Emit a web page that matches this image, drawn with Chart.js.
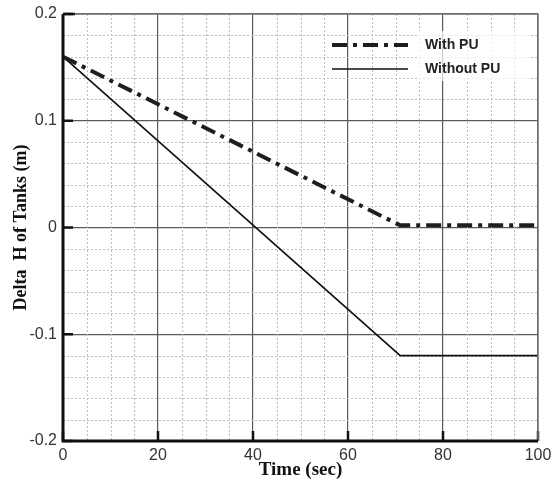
<!DOCTYPE html>
<html>
<head>
<meta charset="utf-8">
<script src="https://cdn.jsdelivr.net/npm/chart.js@4/dist/chart.umd.min.js"></script>
<style>
  html, body { margin: 0; padding: 0; background: #fff; }
  #wrap { width: 558px; height: 487px; }
</style>
</head>
<body>
<div id="wrap"><canvas id="mainChart" width="558" height="487"></canvas></div>
<script>
// datos
const timeSec = [0, 71, 100];
const withPU = [0.16, 0.002, 0.002];
const withoutPU = [0.16, -0.12, -0.12];
const seriesNames = ['With PU', 'Without PU'];
const xTicks = [0, 20, 40, 60, 80, 100];
const yTicks = [-0.2, -0.1, 0, 0.1, 0.2];

const toPoints = (ys) => timeSec.map((t, i) => ({ x: t, y: ys[i] }));

// rejilla menor punteada + marcas interiores
const minorGrid = {
  id: 'minorGrid',
  beforeDatasetsDraw(chart) {
    const { ctx, chartArea: a, scales: { x, y } } = chart;
    ctx.save();
    ctx.strokeStyle = '#bdbdbd';
    ctx.lineWidth = 1;
    ctx.setLineDash([2, 2]);
    for (let v = 5; v < 100; v += 5) {
      if (v % 20 === 0) continue;
      const px = Math.round(x.getPixelForValue(v)) + 0.5;
      ctx.beginPath(); ctx.moveTo(px, a.top); ctx.lineTo(px, a.bottom); ctx.stroke();
    }
    for (let k = -9; k <= 9; k++) {
      if (k % 5 === 0) continue;
      const py = Math.round(y.getPixelForValue(k * 0.02)) + 0.5;
      ctx.beginPath(); ctx.moveTo(a.left, py); ctx.lineTo(a.right, py); ctx.stroke();
    }
    ctx.setLineDash([]);
    ctx.strokeStyle = '#111';
    ctx.lineWidth = 2.5;
    xTicks.forEach(v => {
      const px = x.getPixelForValue(v);
      ctx.beginPath(); ctx.moveTo(px, a.bottom); ctx.lineTo(px, a.bottom - 10); ctx.stroke();
    });
    yTicks.forEach(v => {
      const py = y.getPixelForValue(v);
      ctx.beginPath(); ctx.moveTo(a.left, py); ctx.lineTo(a.left + 10, py); ctx.stroke();
    });
    ctx.restore();
  },
  afterDraw(chart) {
    const { ctx, chartArea: a } = chart;
    ctx.save();
    // marco
    ctx.strokeStyle = '#777';
    ctx.lineWidth = 1.5;
    ctx.beginPath(); ctx.moveTo(a.left, a.top); ctx.lineTo(a.right, a.top); ctx.lineTo(a.right, a.bottom); ctx.stroke();
    ctx.strokeStyle = '#111';
    ctx.lineWidth = 3;
    ctx.beginPath(); ctx.moveTo(a.left, a.top); ctx.lineTo(a.left, a.bottom); ctx.lineTo(a.right, a.bottom); ctx.stroke();
    ctx.lineWidth = 2.5;
    ctx.beginPath(); ctx.moveTo(a.left, a.top); ctx.lineTo(a.left + 12, a.top); ctx.stroke();

    // leyenda
    ctx.fillStyle = 'rgba(255,255,255,0.7)';
    ctx.fillRect(418, 31, 112, 50);
    ctx.font = 'bold 14px "Liberation Sans", Arial, sans-serif';
    ctx.textBaseline = 'middle';
    chart.data.datasets.forEach((ds, i) => {
      const ly = 45 + i * 24;
      ctx.strokeStyle = ds.borderColor;
      ctx.lineWidth = ds.borderWidth;
      ctx.setLineDash(ds.borderDash || []);
      ctx.beginPath(); ctx.moveTo(332, ly); ctx.lineTo(408, ly); ctx.stroke();
      ctx.setLineDash([]);
      ctx.fillStyle = '#222';
      ctx.fillText(ds.label, 425, ly);
    });
    ctx.restore();
  }
};

const ctx = document.getElementById('mainChart').getContext('2d');

new Chart(ctx, {
  type: 'line',
  data: {
    datasets: [{
      label: seriesNames[0],
      data: toPoints(withPU),
      borderColor: '#1e1e1e',
      borderWidth: 4,
      borderDash: [15, 6, 4, 6],
      pointRadius: 0,
      fill: false
    }, {
      label: seriesNames[1],
      data: toPoints(withoutPU),
      borderColor: '#111',
      borderWidth: 1.6,
      pointRadius: 0,
      fill: false
    }]
  },
  options: {
    responsive: false,
    animation: false,
    layout: { padding: { top: 14, right: 20, left: 0, bottom: 0 } },
    plugins: { legend: { display: false }, tooltip: { enabled: false } },
    scales: {
      x: {
        type: 'linear',
        min: 0, max: 100,
        afterBuildTicks: (s) => { s.ticks = xTicks.map(v => ({ value: v })); },
        afterFit: (s) => { s.height = 46; },
        grid: { color: '#5a5a5a', lineWidth: 1.2, drawTicks: false },
        border: { display: false },
        ticks: {
          color: '#333', padding: 5,
          font: { family: '"Liberation Sans", Arial, sans-serif', size: 16 },
          maxRotation: 0
        },
        title: {
          display: true, text: 'Time (sec)', color: '#111',
          padding: { top: 0, bottom: 6 },
          font: { family: '"Liberation Serif", "Times New Roman", serif', size: 19, weight: 'bold' }
        }
      },
      y: {
        type: 'linear',
        min: -0.2, max: 0.2,
        afterBuildTicks: (s) => { s.ticks = yTicks.map(v => ({ value: v })); },
        afterFit: (s) => { s.width = 63; },
        grid: { color: '#5a5a5a', lineWidth: 1.2, drawTicks: false },
        border: { display: false },
        ticks: {
          color: '#333', padding: 6,
          font: { family: '"Liberation Sans", Arial, sans-serif', size: 16, lineHeight: 1 },
          callback: (v) => (Math.abs(v) < 1e-9 ? '0' : String(+v.toFixed(1)))
        },
        title: {
          display: true, text: 'Delta  H of Tanks (m)', color: '#111',
          padding: { top: 11, bottom: 0 },
          font: { family: '"Liberation Serif", "Times New Roman", serif', size: 18, weight: 'bold' }
        }
      }
    }
  },
  plugins: [minorGrid]
});
</script>
</body>
</html>
